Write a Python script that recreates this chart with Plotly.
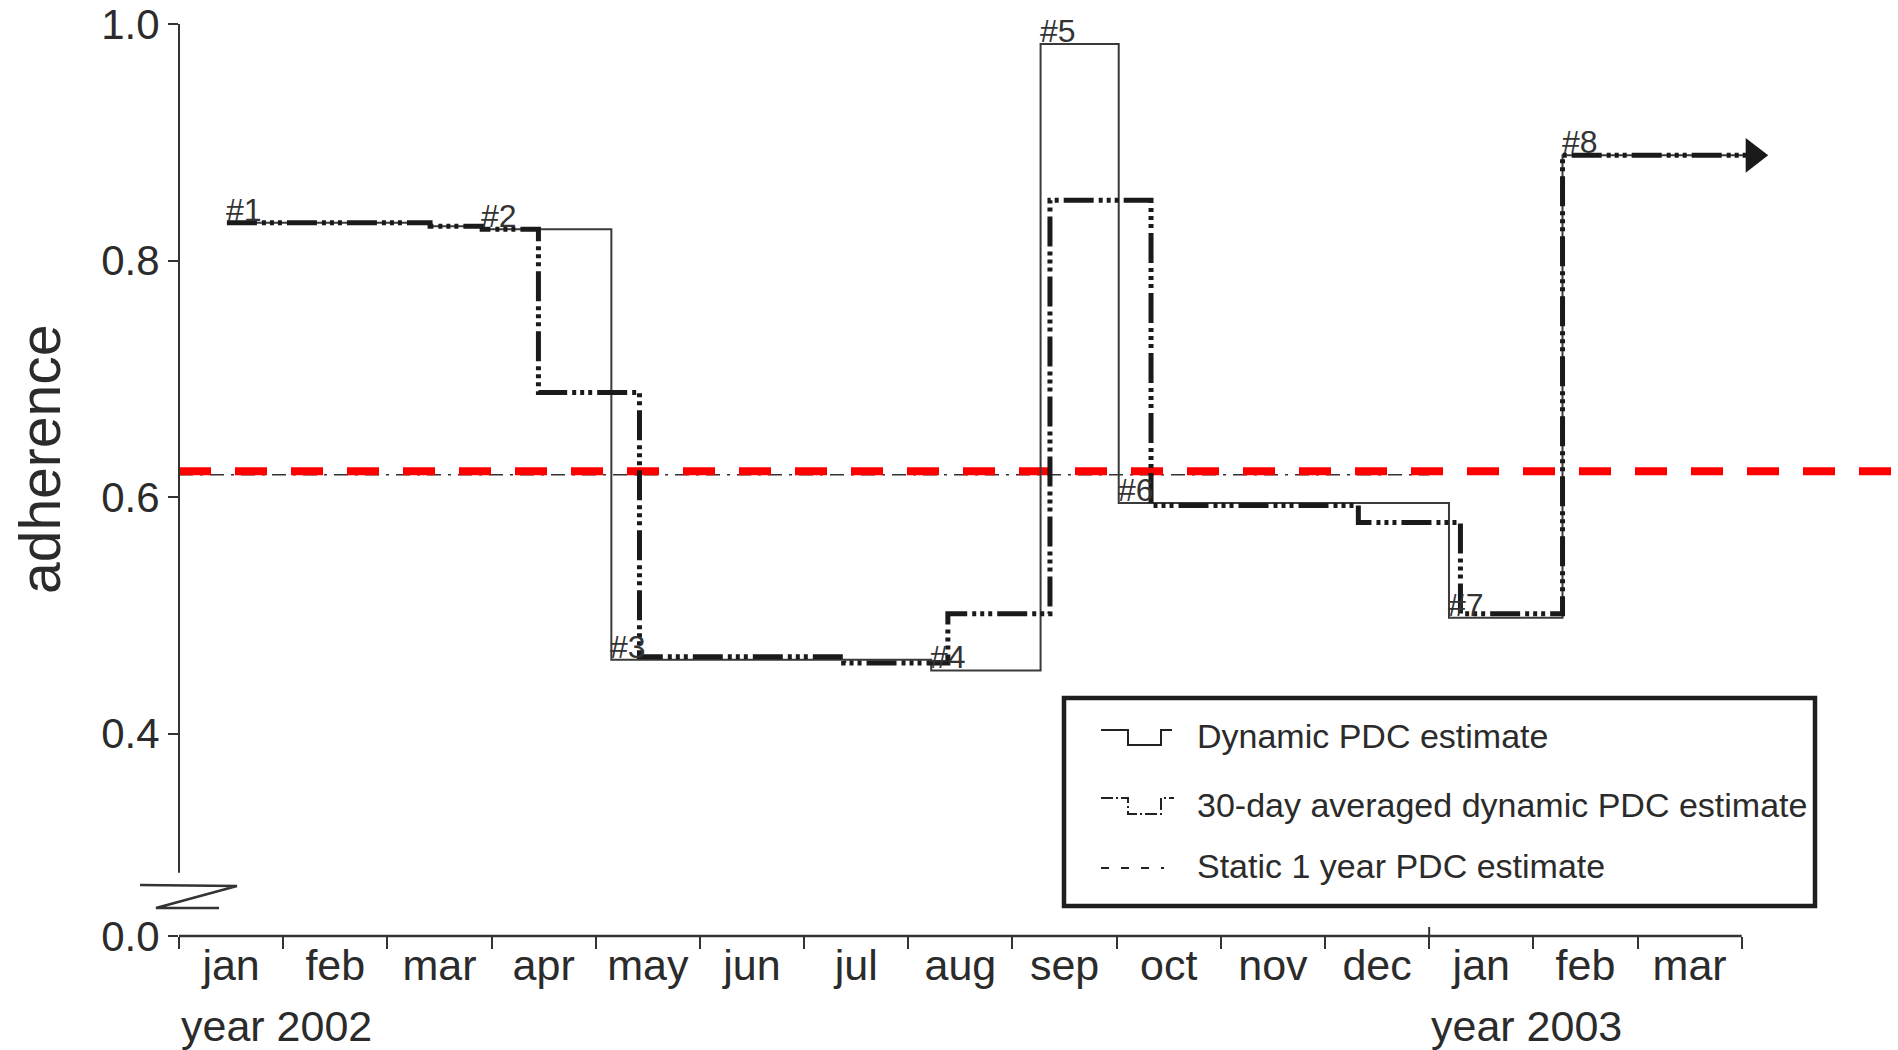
import plotly.graph_objects as go

# ---------------- data ----------------
months = ["jan", "feb", "mar", "apr", "may", "jun", "jul", "aug",
          "sep", "oct", "nov", "dec", "jan", "feb", "mar"]

# time in months since 1 Jan 2002, value = adherence (step changes)
dyn_t = [0.46, 2.41, 2.91, 4.15, 7.22, 8.27, 9.02, 12.19, 13.28, 15.22]
dyn_v = [0.832, 0.829, 0.8265, 0.4625, 0.4535, 0.983, 0.595, 0.498, 0.889, 0.889]

avg_t = [0.46, 2.41, 2.91, 3.45, 4.42, 6.38, 7.38, 8.36, 9.33, 11.32, 12.30, 13.28, 15.22]
avg_v = [0.832, 0.829, 0.8265, 0.6885, 0.465, 0.4597, 0.5014, 0.851, 0.593, 0.5786, 0.5014, 0.889, 0.889]

static_t = [0, 12]
static_v = [0.619, 0.619]

ref_t = [0, 16.5]
ref_v = [0.622, 0.622]

event_labels = ["#1", "#2", "#3", "#4", "#5", "#6", "#7", "#8"]
event_idx = [0, 2, 3, 4, 5, 6, 7, 8]

year_labels = ["year 2002", "year 2003"]
year_pos = [0, 12]

ytick_vals = [0.229, 0.4, 0.6, 0.8, 1.0]   # 0.229 = displayed position of 0.0 (axis break)
ytick_text = ["0.0", "0.4", "0.6", "0.8", "1.0"]
Y_RANGE = [0.229, 1.0203]
X_RANGE = [0, 16.5]
N_MONTHS = 15
ARROW_BACK = 0.11   # arrow-head marker centre offset so its tip sits at the line end

legend_names = ["Dynamic PDC estimate",
                "30-day averaged dynamic PDC estimate",
                "Static 1 year PDC estimate"]

# ---------------- layout helpers ----------------
W, H = 1898, 1050
ML, MR, MT, MB = 179, 0, 0, 114
PW, PH = W - ML - MR, H - MT - MB


def px(xo):
    return (xo - ML) / PW


def py(yo):
    return (H - MB - yo) / PH


FONT = "Liberation Sans, Arial, Helvetica, sans-serif"
INK = "#2b2b2b"

AVG_DASH = "30px,5px,4px,4px,4px,4px,4px,5px"

fig = go.Figure()

fig.add_trace(go.Scatter(x=static_t, y=static_v, mode="lines", line_shape="hv",
                         line=dict(color="#333333", width=1.6, dash="14px,7px,3px,7px"),
                         name=legend_names[2], showlegend=False))
fig.add_trace(go.Scatter(x=ref_t, y=ref_v, mode="lines",
                         line=dict(color="#ff0000", width=8, dash="32px,24px"),
                         name="reference", showlegend=False))
fig.add_trace(go.Scatter(x=dyn_t, y=dyn_v, mode="lines", line_shape="hv",
                         line=dict(color="#3a3a3a", width=2),
                         name=legend_names[0], showlegend=False))
fig.add_trace(go.Scatter(x=avg_t, y=avg_v, mode="lines", line_shape="hv",
                         line=dict(color="#1a1a1a", width=5, dash=AVG_DASH),
                         name=legend_names[1], showlegend=False))
# arrow head at the end of the series
fig.add_trace(go.Scatter(x=[avg_t[-1] - ARROW_BACK], y=[avg_v[-1]], mode="markers",
                         marker=dict(symbol="triangle-right", size=30, color="#1a1a1a"),
                         showlegend=False, hoverinfo="skip"))

# event labels
for lab, i in zip(event_labels, event_idx):
    fig.add_annotation(x=dyn_t[i], y=dyn_v[i], text=lab, showarrow=False,
                       xanchor="left", yanchor="bottom", yshift=-7, xshift=-3,
                       font=dict(size=32, color="#333333", family=FONT))

# year labels
for lab, xv in zip(year_labels, year_pos):
    fig.add_annotation(x=xv, xref="x", y=py(1026), yref="paper", text=lab,
                       showarrow=False, xanchor="left", yanchor="middle",
                       font=dict(size=43, color=INK, family=FONT))

# y title
fig.add_annotation(x=px(40), y=py(460), xref="paper", yref="paper", text="adherence",
                   textangle=-90, showarrow=False, xanchor="center", yanchor="middle",
                   font=dict(size=57, color=INK, family=FONT))

shapes = []
# y axis line (broken)
shapes.append(dict(type="line", xref="paper", yref="y", x0=0, x1=0,
                   y0=0.2825, y1=1.0, line=dict(color="#333333", width=2)))
# axis break symbol
shapes.append(dict(type="path", xref="paper", yref="paper",
                   path=f"M {px(140)} {py(885)} L {px(237)} {py(886)} L {px(156)} {py(908)} L {px(219)} {py(908)}",
                   line=dict(color="#333333", width=2.5)))
# x axis line
shapes.append(dict(type="line", xref="x", yref="paper", x0=0, x1=N_MONTHS,
                   y0=0, y1=0, line=dict(color="#333333", width=2.5)))
# taller tick at year boundary
shapes.append(dict(type="line", xref="x", yref="paper", x0=12, x1=12,
                   y0=py(927), y1=0, line=dict(color="#333333", width=2)))

# legend box
shapes.append(dict(type="rect", xref="paper", yref="paper",
                   x0=px(1064), x1=px(1815), y0=py(906), y1=py(698),
                   line=dict(color="#1e1e1e", width=4.5), fillcolor="rgba(255,255,255,0)"))
# legend glyph 1: solid step
shapes.append(dict(type="path", xref="paper", yref="paper",
                   path=(f"M {px(1101)} {py(730)} L {px(1128)} {py(730)} L {px(1128)} {py(745)} "
                         f"L {px(1161)} {py(745)} L {px(1161)} {py(730)} L {px(1172)} {py(730)}"),
                   line=dict(color="#222222", width=2)))
# legend glyph 2: dash-dot step
shapes.append(dict(type="path", xref="paper", yref="paper",
                   path=(f"M {px(1101)} {py(798)} L {px(1128)} {py(798)} L {px(1128)} {py(814)} "
                         f"L {px(1161)} {py(814)} L {px(1161)} {py(798)} L {px(1174)} {py(798)}"),
                   line=dict(color="#222222", width=2, dash="12px,3px,2px,3px")))
# legend glyph 3: dashed
shapes.append(dict(type="line", xref="paper", yref="paper",
                   x0=px(1101), x1=px(1164), y0=py(868), y1=py(868),
                   line=dict(color="#222222", width=2, dash="8px,12px")))

legend_y = [736, 805, 866]
for name, yy in zip(legend_names, legend_y):
    fig.add_annotation(x=px(1195), y=py(yy), xref="paper", yref="paper", text=name,
                       showarrow=False, xanchor="left", yanchor="middle",
                       font=dict(size=34, color=INK, family=FONT))

fig.update_layout(
    width=W, height=H,
    margin=dict(l=ML, r=MR, t=MT, b=MB, pad=0),
    paper_bgcolor="white", plot_bgcolor="white",
    font=dict(family=FONT, color=INK),
    shapes=shapes,
    showlegend=False,
    xaxis=dict(range=X_RANGE, showline=False, showgrid=False, zeroline=False,
               tickmode="array", tickvals=[i + 0.5 for i in range(N_MONTHS)], ticktext=months,
               ticks="", tickfont=dict(size=43, color=INK, family=FONT),
               minor=dict(tickmode="array", tickvals=list(range(N_MONTHS + 1)),
                          ticks="outside", ticklen=12, tickwidth=2, tickcolor="#333333",
                          showgrid=False)),
    yaxis=dict(range=Y_RANGE, showline=False, showgrid=False, zeroline=False,
               tickmode="array", tickvals=ytick_vals, ticktext=ytick_text,
               ticks="outside", ticklen=10, tickwidth=2, tickcolor="#333333",
               tickfont=dict(size=42, color=INK, family=FONT)),
)

fig.write_html("out.html", config={"displayModeBar": False},
               post_script="document.body.style.margin='0px';document.body.style.overflow='hidden';")
